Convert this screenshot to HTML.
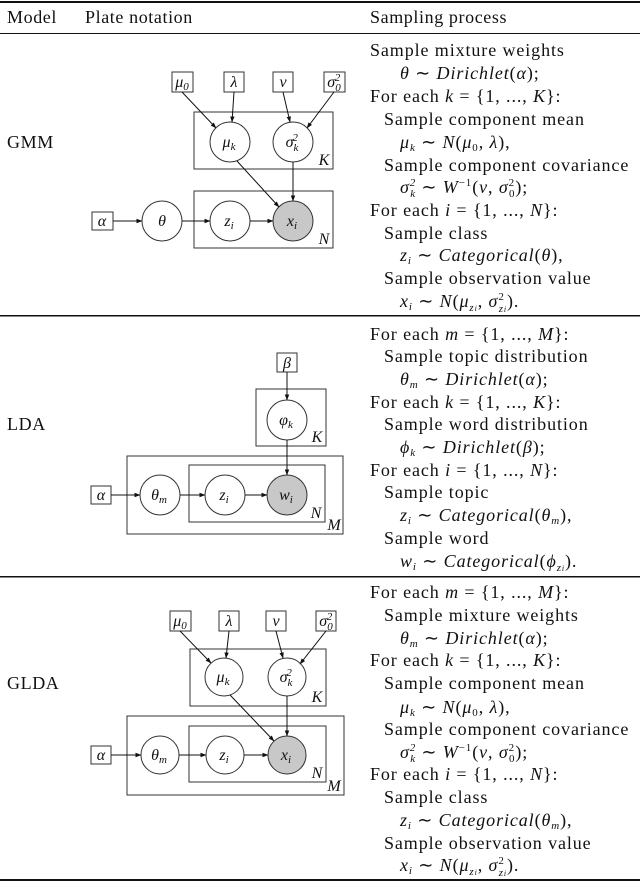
<!DOCTYPE html>
<html><head><meta charset="utf-8"><style>
html,body{margin:0;padding:0;background:#fff;}
svg{display:block;}
.t{font-family:"Liberation Serif",serif;font-size:18px;fill:#111;}
.i{font-style:italic;}
.d{font-family:"Liberation Serif",serif;font-style:italic;font-size:16px;fill:#111;}
.s{font-size:11px;}
</style></head><body>
<svg width="640" height="883" viewBox="0 0 640 883" xmlns="http://www.w3.org/2000/svg">
<defs>
<marker id="a" markerWidth="6" markerHeight="6" refX="5.5" refY="3" orient="auto" markerUnits="userSpaceOnUse">
<path d="M0,0.8 L6,3 L0,5.2 z" fill="#111"/></marker>
</defs>
<rect x="0" y="1" width="640" height="2" fill="#111"/>
<rect x="0" y="33" width="640" height="1" fill="#111"/>
<rect x="0" y="315" width="640" height="1.5" fill="#111"/>
<rect x="0" y="576" width="640" height="1.5" fill="#111"/>
<rect x="0" y="879" width="640" height="2" fill="#111"/>

<g class="t" letter-spacing="0.6">
<text x="7" y="23">Model</text>
<text x="85" y="23">Plate notation</text>
<text x="370" y="23">Sampling process</text>
<text x="7" y="148">GMM</text>
<text x="7" y="430">LDA</text>
<text x="7" y="689">GLDA</text>
</g>

<g fill="none" stroke="#333" stroke-width="1">
<rect x="172" y="72" width="21" height="20"/><rect x="224" y="72" width="20" height="20"/>
<rect x="273" y="72" width="20" height="20"/><rect x="324" y="72" width="21" height="20"/>
<rect x="194" y="112" width="139" height="57"/><rect x="194" y="191" width="139" height="57"/>
<rect x="92" y="212" width="21" height="18"/>
<circle cx="230" cy="142" r="20" fill="#fff"/><circle cx="293" cy="142" r="20" fill="#fff"/>
<circle cx="162" cy="221" r="20" fill="#fff"/><circle cx="230" cy="221" r="20" fill="#fff"/>
<circle cx="293" cy="221" r="20" fill="#c8c8c8"/>
<rect x="277" y="353" width="20" height="19"/>
<rect x="256" y="389" width="70" height="57"/>
<rect x="127" y="456" width="216" height="78"/><rect x="189" y="465" width="136" height="57"/>
<rect x="91" y="486" width="20" height="18"/>
<circle cx="287" cy="420" r="20" fill="#fff"/>
<circle cx="160" cy="495" r="20" fill="#fff"/><circle cx="225" cy="495" r="20" fill="#fff"/>
<circle cx="287" cy="495" r="20" fill="#c8c8c8"/>
<rect x="170" y="611" width="21" height="20"/><rect x="219" y="611" width="20" height="20"/>
<rect x="266" y="611" width="20" height="20"/><rect x="316" y="611" width="20" height="20"/>
<rect x="190" y="649" width="136" height="57"/>
<rect x="127" y="716" width="217" height="79"/><rect x="189" y="726" width="137" height="56"/>
<rect x="91" y="746" width="20" height="18"/>
<circle cx="224" cy="677" r="19" fill="#fff"/><circle cx="287" cy="677" r="19" fill="#fff"/>
<circle cx="160" cy="755" r="19" fill="#fff"/><circle cx="225" cy="755" r="19" fill="#fff"/>
<circle cx="287" cy="755" r="19" fill="#c8c8c8"/>
</g>
<g stroke="#111" stroke-width="1" marker-end="url(#a)">
<line x1="182" y1="92" x2="216" y2="128"/><line x1="234" y1="92" x2="232" y2="122"/>
<line x1="283" y1="92" x2="290" y2="122"/><line x1="334" y1="92" x2="307" y2="128"/>
<line x1="237" y1="161" x2="279" y2="207"/><line x1="293" y1="162" x2="293" y2="201"/>
<line x1="113" y1="221" x2="142" y2="221"/><line x1="182" y1="221" x2="210" y2="221"/>
<line x1="250" y1="221" x2="273" y2="221"/>
<line x1="287" y1="372" x2="287" y2="400"/><line x1="287" y1="440" x2="287" y2="475"/>
<line x1="111" y1="495" x2="140" y2="495"/><line x1="180" y1="495" x2="205" y2="495"/>
<line x1="245" y1="495" x2="267" y2="495"/>
<line x1="180" y1="631" x2="211" y2="663"/><line x1="229" y1="631" x2="226" y2="658"/>
<line x1="276" y1="631" x2="283" y2="658"/><line x1="326" y1="631" x2="300" y2="664"/>
<line x1="230" y1="695" x2="274" y2="741"/><line x1="287" y1="696" x2="287" y2="736"/>
<line x1="111" y1="755" x2="141" y2="755"/><line x1="179" y1="755" x2="206" y2="755"/>
<line x1="244" y1="755" x2="268" y2="755"/>
</g>
<g class="d" text-anchor="middle">
<text x="182" y="87">μ<tspan class="s" dy="3">0</tspan></text>
<text x="234" y="87">λ</text><text x="283" y="87">ν</text>
<text x="334" y="87">σ<tspan class="s" dy="4">0</tspan><tspan class="s" dx="-6" dy="-10">2</tspan></text>
<text x="229" y="147">μ<tspan class="s" dy="3">k</tspan></text>
<text x="292" y="147">σ<tspan class="s" dy="4">k</tspan><tspan class="s" dx="-6" dy="-10">2</tspan></text>
<text x="102" y="226">α</text><text x="162" y="226">θ</text>
<text x="229" y="226">z<tspan class="s" dy="3">i</tspan></text>
<text x="292" y="226">x<tspan class="s" dy="3">i</tspan></text>
<text x="324" y="165">K</text><text x="324" y="244">N</text>

<text x="287" y="368">β</text>
<text x="286" y="425">φ<tspan class="s" dy="3">k</tspan></text>
<text x="317" y="442">K</text>
<text x="101" y="500">α</text>
<text x="159" y="500">θ<tspan class="s" dy="3">m</tspan></text>
<text x="224" y="500">z<tspan class="s" dy="3">i</tspan></text>
<text x="286" y="500">w<tspan class="s" dy="3">i</tspan></text>
<text x="316" y="518">N</text><text x="334" y="530">M</text>

<text x="180" y="626">μ<tspan class="s" dy="3">0</tspan></text>
<text x="229" y="626">λ</text><text x="276" y="626">ν</text>
<text x="326" y="626">σ<tspan class="s" dy="4">0</tspan><tspan class="s" dx="-6" dy="-10">2</tspan></text>
<text x="223" y="682">μ<tspan class="s" dy="3">k</tspan></text>
<text x="286" y="682">σ<tspan class="s" dy="4">k</tspan><tspan class="s" dx="-6" dy="-10">2</tspan></text>
<text x="317" y="702">K</text>
<text x="101" y="760">α</text>
<text x="159" y="760">θ<tspan class="s" dy="3">m</tspan></text>
<text x="224" y="760">z<tspan class="s" dy="3">i</tspan></text>
<text x="286" y="760">x<tspan class="s" dy="3">i</tspan></text>
<text x="317" y="778">N</text><text x="334" y="791">M</text>
</g>

<g class="t" letter-spacing="0.9">
<text x="370" y="56">Sample mixture weights</text>
<text x="400" y="79"><tspan class="i">θ</tspan> ∼ <tspan class="i">Dirichlet</tspan>(<tspan class="i">α</tspan>);</text>
<text x="370" y="102">For each <tspan class="i">k</tspan> = {1, ..., <tspan class="i">K</tspan>}:</text>
<text x="384" y="125">Sample component mean</text>
<text x="400" y="148"><tspan class="i">μ<tspan class="s" dy="3">k</tspan></tspan><tspan dy="-3"> ∼ </tspan><tspan class="i">N</tspan>(<tspan class="i">μ</tspan><tspan class="s" dy="3">0</tspan><tspan dy="-3">, </tspan><tspan class="i">λ</tspan>),</text>
<text x="384" y="171">Sample component covariance</text>
<text x="400" y="193"><tspan class="i">σ</tspan><tspan class="s i" dy="-7">2</tspan><tspan class="s i" dx="-6" dy="11">k</tspan><tspan dy="-4"> ∼ </tspan><tspan class="i">W</tspan><tspan class="s" dy="-7">−1</tspan><tspan dy="7">(</tspan><tspan class="i">ν</tspan>, <tspan class="i">σ</tspan><tspan class="s" dy="-7">2</tspan><tspan class="s" dx="-6" dy="11">0</tspan><tspan dy="-4">);</tspan></text>
<text x="370" y="216">For each <tspan class="i">i</tspan> = {1, ..., <tspan class="i">N</tspan>}:</text>
<text x="384" y="239">Sample class</text>
<text x="400" y="261"><tspan class="i">z<tspan class="s" dy="3">i</tspan></tspan><tspan dy="-3"> ∼ </tspan><tspan class="i">Categorical</tspan>(<tspan class="i">θ</tspan>),</text>
<text x="384" y="284">Sample observation value</text>
<text x="400" y="307"><tspan class="i">x<tspan class="s" dy="3">i</tspan></tspan><tspan dy="-3"> ∼ </tspan><tspan class="i">N</tspan>(<tspan class="i">μ</tspan><tspan class="s i" dy="4">z<tspan style="font-size:8px">i</tspan></tspan><tspan dy="-4">, </tspan><tspan class="i">σ</tspan><tspan class="s" dy="-7">2</tspan><tspan class="s i" dx="-6" dy="12">z<tspan style="font-size:8px">i</tspan></tspan><tspan dy="-5">).</tspan></text>
</g>
<g class="t" letter-spacing="0.9">
<text x="370" y="340">For each <tspan class="i">m</tspan> = {1, ..., <tspan class="i">M</tspan>}:</text>
<text x="384" y="362">Sample topic distribution</text>
<text x="400" y="385"><tspan class="i">θ<tspan class="s" dy="3">m</tspan></tspan><tspan dy="-3"> ∼ </tspan><tspan class="i">Dirichlet</tspan>(<tspan class="i">α</tspan>);</text>
<text x="370" y="408">For each <tspan class="i">k</tspan> = {1, ..., <tspan class="i">K</tspan>}:</text>
<text x="384" y="430">Sample word distribution</text>
<text x="400" y="453"><tspan class="i">ϕ<tspan class="s" dy="3">k</tspan></tspan><tspan dy="-3"> ∼ </tspan><tspan class="i">Dirichlet</tspan>(<tspan class="i">β</tspan>);</text>
<text x="370" y="476">For each <tspan class="i">i</tspan> = {1, ..., <tspan class="i">N</tspan>}:</text>
<text x="384" y="498">Sample topic</text>
<text x="400" y="521"><tspan class="i">z<tspan class="s" dy="3">i</tspan></tspan><tspan dy="-3"> ∼ </tspan><tspan class="i">Categorical</tspan>(<tspan class="i">θ</tspan><tspan class="s i" dy="3">m</tspan><tspan dy="-3">),</tspan></text>
<text x="384" y="544">Sample word</text>
<text x="400" y="567"><tspan class="i">w<tspan class="s" dy="3">i</tspan></tspan><tspan dy="-3"> ∼ </tspan><tspan class="i">Categorical</tspan>(<tspan class="i">ϕ</tspan><tspan class="s i" dy="4">z<tspan style="font-size:8px">i</tspan></tspan><tspan dy="-4">).</tspan></text>
</g>
<g class="t" letter-spacing="0.9">
<text x="370" y="598">For each <tspan class="i">m</tspan> = {1, ..., <tspan class="i">M</tspan>}:</text>
<text x="384" y="621">Sample mixture weights</text>
<text x="400" y="644"><tspan class="i">θ<tspan class="s" dy="3">m</tspan></tspan><tspan dy="-3"> ∼ </tspan><tspan class="i">Dirichlet</tspan>(<tspan class="i">α</tspan>);</text>
<text x="370" y="666">For each <tspan class="i">k</tspan> = {1, ..., <tspan class="i">K</tspan>}:</text>
<text x="384" y="689">Sample component mean</text>
<text x="400" y="713"><tspan class="i">μ<tspan class="s" dy="3">k</tspan></tspan><tspan dy="-3"> ∼ </tspan><tspan class="i">N</tspan>(<tspan class="i">μ</tspan><tspan class="s" dy="3">0</tspan><tspan dy="-3">, </tspan><tspan class="i">λ</tspan>),</text>
<text x="384" y="735">Sample component covariance</text>
<text x="400" y="758"><tspan class="i">σ</tspan><tspan class="s i" dy="-7">2</tspan><tspan class="s i" dx="-6" dy="11">k</tspan><tspan dy="-4"> ∼ </tspan><tspan class="i">W</tspan><tspan class="s" dy="-7">−1</tspan><tspan dy="7">(</tspan><tspan class="i">ν</tspan>, <tspan class="i">σ</tspan><tspan class="s" dy="-7">2</tspan><tspan class="s" dx="-6" dy="11">0</tspan><tspan dy="-4">);</tspan></text>
<text x="370" y="780">For each <tspan class="i">i</tspan> = {1, ..., <tspan class="i">N</tspan>}:</text>
<text x="384" y="803">Sample class</text>
<text x="400" y="826"><tspan class="i">z<tspan class="s" dy="3">i</tspan></tspan><tspan dy="-3"> ∼ </tspan><tspan class="i">Categorical</tspan>(<tspan class="i">θ</tspan><tspan class="s i" dy="3">m</tspan><tspan dy="-3">),</tspan></text>
<text x="384" y="849">Sample observation value</text>
<text x="400" y="871"><tspan class="i">x<tspan class="s" dy="3">i</tspan></tspan><tspan dy="-3"> ∼ </tspan><tspan class="i">N</tspan>(<tspan class="i">μ</tspan><tspan class="s i" dy="4">z<tspan style="font-size:8px">i</tspan></tspan><tspan dy="-4">, </tspan><tspan class="i">σ</tspan><tspan class="s" dy="-7">2</tspan><tspan class="s i" dx="-6" dy="12">z<tspan style="font-size:8px">i</tspan></tspan><tspan dy="-5">).</tspan></text>
</g>
</svg>
</body></html>
